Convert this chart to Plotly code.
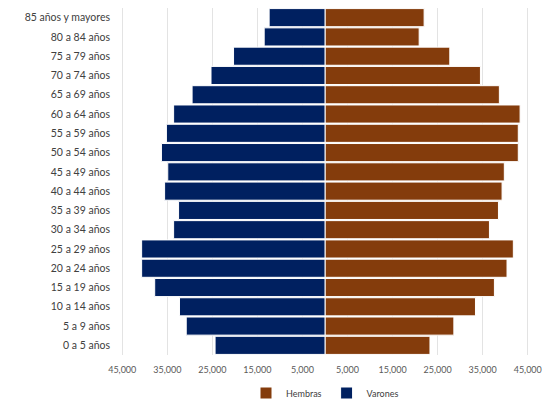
import plotly.graph_objects as go

# Age groups, youngest first (bottom of the pyramid)
grupos = [
    "0 a 5 años", "5 a 9 años", "10 a 14 años", "15 a 19 años", "20 a 24 años",
    "25 a 29 años", "30 a 34 años", "35 a 39 años", "40 a 44 años", "45 a 49 años",
    "50 a 54 años", "55 a 59 años", "60 a 64 años", "65 a 69 años", "70 a 74 años",
    "75 a 79 años", "80 a 84 años", "85 años y mayores",
]

# Population by sex
varones = [24400, 30800, 32300, 37800, 40700, 40700, 33600, 32500, 35600, 34900,
           36300, 35200, 33600, 29500, 25300, 20300, 13500, 12400]
hembras = [23300, 28600, 33400, 37600, 40400, 41800, 36500, 38500, 39300, 39800,
           42900, 42900, 43300, 38700, 34500, 27700, 20900, 22000]

# Symmetric axis ticks shown as absolute values
tick_vals = [-45000, -35000, -25000, -15000, -5000, 5000, 15000, 25000, 35000, 45000]
tick_text = ["45,000", "35,000", "25,000", "15,000", "5,000",
             "5,000", "15,000", "25,000", "35,000", "45,000"]

fig = go.Figure()
fig.add_trace(go.Bar(
    y=grupos, x=hembras, orientation="h", name="Hembras",
    marker=dict(color="#843C0C", line=dict(color="white", width=1)),
))
fig.add_trace(go.Bar(
    y=grupos, x=[-v for v in varones], orientation="h", name="Varones",
    marker=dict(color="#002060", line=dict(color="white", width=1)),
))

fig.update_layout(
    width=545, height=406,
    margin=dict(l=120, r=15, t=8, b=51, autoexpand=False),
    barmode="overlay",
    bargap=0.06,
    plot_bgcolor="white",
    paper_bgcolor="white",
    font=dict(family="Lato, sans-serif", color="#404040"),
    showlegend=True,
    legend=dict(
        orientation="h", x=0.5, xanchor="center",
        yref="container", y=0.032, yanchor="middle",
        bgcolor="rgba(0,0,0,0)",
        font=dict(size=9, color="#404040"), traceorder="normal",
        itemwidth=30,
    ),
)
fig.update_xaxes(
    range=[-45500, 45500],
    tickvals=tick_vals, ticktext=tick_text,
    tickfont=dict(size=9, color="#595959"),
    showgrid=True, gridcolor="#E3E3E3", gridwidth=1,
    zeroline=False, showline=False, ticks="",
    ticklabelstandoff=8,
)
fig.update_yaxes(
    categoryorder="array", categoryarray=grupos,
    tickfont=dict(size=10.5, color="#404040"),
    showgrid=False, zeroline=False, showline=False, ticks="",
    ticklabelstandoff=9,
)

fig.write_html("out.html")
